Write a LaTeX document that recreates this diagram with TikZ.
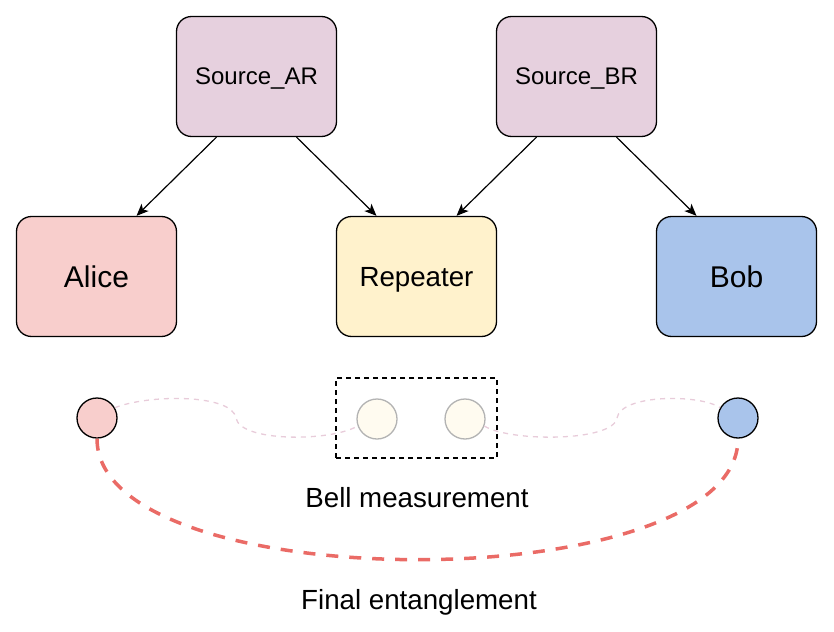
\documentclass[tikz,border=0pt]{standalone}
\usepackage{fontspec}
\setmainfont{Liberation Sans}
\usetikzlibrary{arrows.meta}

\definecolor{srcfill}{HTML}{E6D0DE}
\definecolor{alicefill}{HTML}{F8CECC}
\definecolor{repfill}{HTML}{FFF2CC}
\definecolor{bobfill}{HTML}{A9C4EB}
\definecolor{entred}{HTML}{EA6B66}
\definecolor{linkpink}{HTML}{E8CCDA}
\definecolor{ghostfill}{HTML}{FFFBF0}
\definecolor{ghostline}{HTML}{B3B3B3}

\begin{document}
\begin{tikzpicture}[x=1pt,y=1pt,yscale=-1,xscale=1,
  every node/.style={text depth=0pt},
  party/.style={draw,line width=1.3pt,rounded corners=15pt,minimum width=160pt,minimum height=120pt,inner sep=0pt},
  qubit/.style={circle,draw,line width=1.3pt,minimum size=40pt,inner sep=0pt},
  ghost/.style={qubit,draw=ghostline,fill=ghostfill},
  feed/.style={line width=1.2pt,-{Stealth[length=12pt,width=10pt,inset=3pt]}},
  link/.style={draw=linkpink,line width=1.3pt,dash pattern=on 5pt off 5pt},
  bigtext/.style={font=\fontsize{30}{36}\selectfont},
  midtext/.style={font=\fontsize{27.7}{33}\selectfont},
  smalltext/.style={font=\fontsize{24}{29}\selectfont}]
\useasboundingbox (0,0) rectangle (834,631);

%Sources
\node [party,fill=srcfill,smalltext] (srcA) at (256.5,76.5) {Source\_AR};
\node [party,fill=srcfill,smalltext] (srcB) at (576.5,76.5) {Source\_BR};

%Parties
\node [party,fill=alicefill,bigtext] (alice) at (96.5,276.5) {Alice};
\node [party,fill=repfill,midtext] (rep) at (416.5,276.5) {Repeater};
\node [party,fill=bobfill,bigtext] (bob) at (736.5,276.5) {Bob};

%Distribution
\draw [feed] ([xshift=-40pt]srcA.south) -- ([xshift=40pt]alice.north);
\draw [feed] ([xshift=40pt]srcA.south) -- ([xshift=-40pt]rep.north);
\draw [feed] ([xshift=-40pt]srcB.south) -- ([xshift=40pt]rep.north);
\draw [feed] ([xshift=40pt]srcB.south) -- ([xshift=-40pt]bob.north);

%Bell measurement box
\node [draw,line width=1.3pt,dash pattern=on 5pt off 4pt,minimum width=161pt,minimum height=80pt,inner sep=0pt] (bell) at (416.5,418) {};

%Qubits
\node [qubit,fill=alicefill] (qA) at (97,418) {};
\node [ghost] (qR1) at (377,419) {};
\node [ghost] (qR2) at (465,419) {};
\node [qubit,fill=bobfill] (qB) at (738,418) {};

%Links to repeater
\draw [link] (qA.30) .. controls (150,394) and (232,394) .. (236,418) .. controls (240,442) and (330,442) .. (qR1.200);
\draw [link] (qR2.340) .. controls (510,442) and (613,442) .. (617,418) .. controls (621,394) and (700,394) .. (qB.150);

%Final entanglement
\draw [draw=entred,line width=3.5pt,dash pattern=on 12pt off 11pt] (qA.south) .. controls (97,600) and (738,600) .. (qB.south);

\node [midtext] (bellLabel) at (417,497) {Bell measurement};
\node [midtext] (finalLabel) at (419,599) {Final entanglement};

\end{tikzpicture}
\end{document}
